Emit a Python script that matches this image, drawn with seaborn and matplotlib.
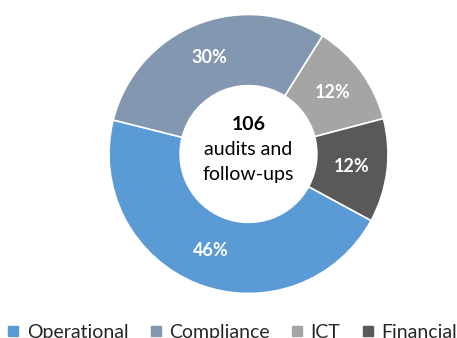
import matplotlib
matplotlib.use("Agg")
import matplotlib.pyplot as plt
from matplotlib.lines import Line2D
import seaborn as sns

categories = ["Operational", "Compliance", "ICT", "Financial"]
shares = [46, 30, 12, 12]
slice_colors = ["#5B9BD5", "#8497B0", "#A5A5A5", "#595959"]
total_label = "106"
center_lines = ["audits and", "follow-ups"]

sns.set_theme(style="white")
plt.rcParams["font.family"] = ["Lato", "DejaVu Sans"]

W, H = 457, 338
fig = plt.figure(figsize=(W / 100, H / 100), dpi=100)

# axes placed so the ring sits where it does in the original
cx, cy, r = 248.5, 154, 139.5
ax = fig.add_axes([(cx - r) / W, (H - cy - r) / H, 2 * r / W, 2 * r / H])
ax.axis("off")

palette = sns.color_palette(slice_colors)
ring_width = 0.51

wedges, _, autotexts = ax.pie(
    shares,
    colors=palette,
    startangle=-28.5,
    counterclock=False,
    radius=1,
    autopct=lambda p: f"{p:.0f}%",
    pctdistance=1 - ring_width / 2,
    wedgeprops=dict(width=ring_width, edgecolor="white", linewidth=1.2),
    frame=False,
)
ax.set_xlim(-1, 1)
ax.set_ylim(-1, 1)

for t in autotexts:
    t.set_color("white")
    t.set_fontsize(13)
    t.set_fontweight("bold")

ax.text(0, 0.215, total_label, ha="center", va="center",
        fontsize=14, fontweight="bold", color="black")
ax.text(0, 0.035, center_lines[0], ha="center", va="center",
        fontsize=14, color="black")
ax.text(0, -0.15, center_lines[1], ha="center", va="center",
        fontsize=14, color="black")

handles = [
    Line2D([0], [0], marker="s", linestyle="", markersize=7,
           markerfacecolor=c, markeredgecolor=c)
    for c in palette
]
fig.legend(
    handles, categories,
    loc="center", bbox_to_anchor=(0.508, 0.016),
    ncol=4, frameon=False, fontsize=14,
    handlelength=0.6, handletextpad=0.4, columnspacing=1.1,
)

fig.savefig("out.png", dpi=100)
